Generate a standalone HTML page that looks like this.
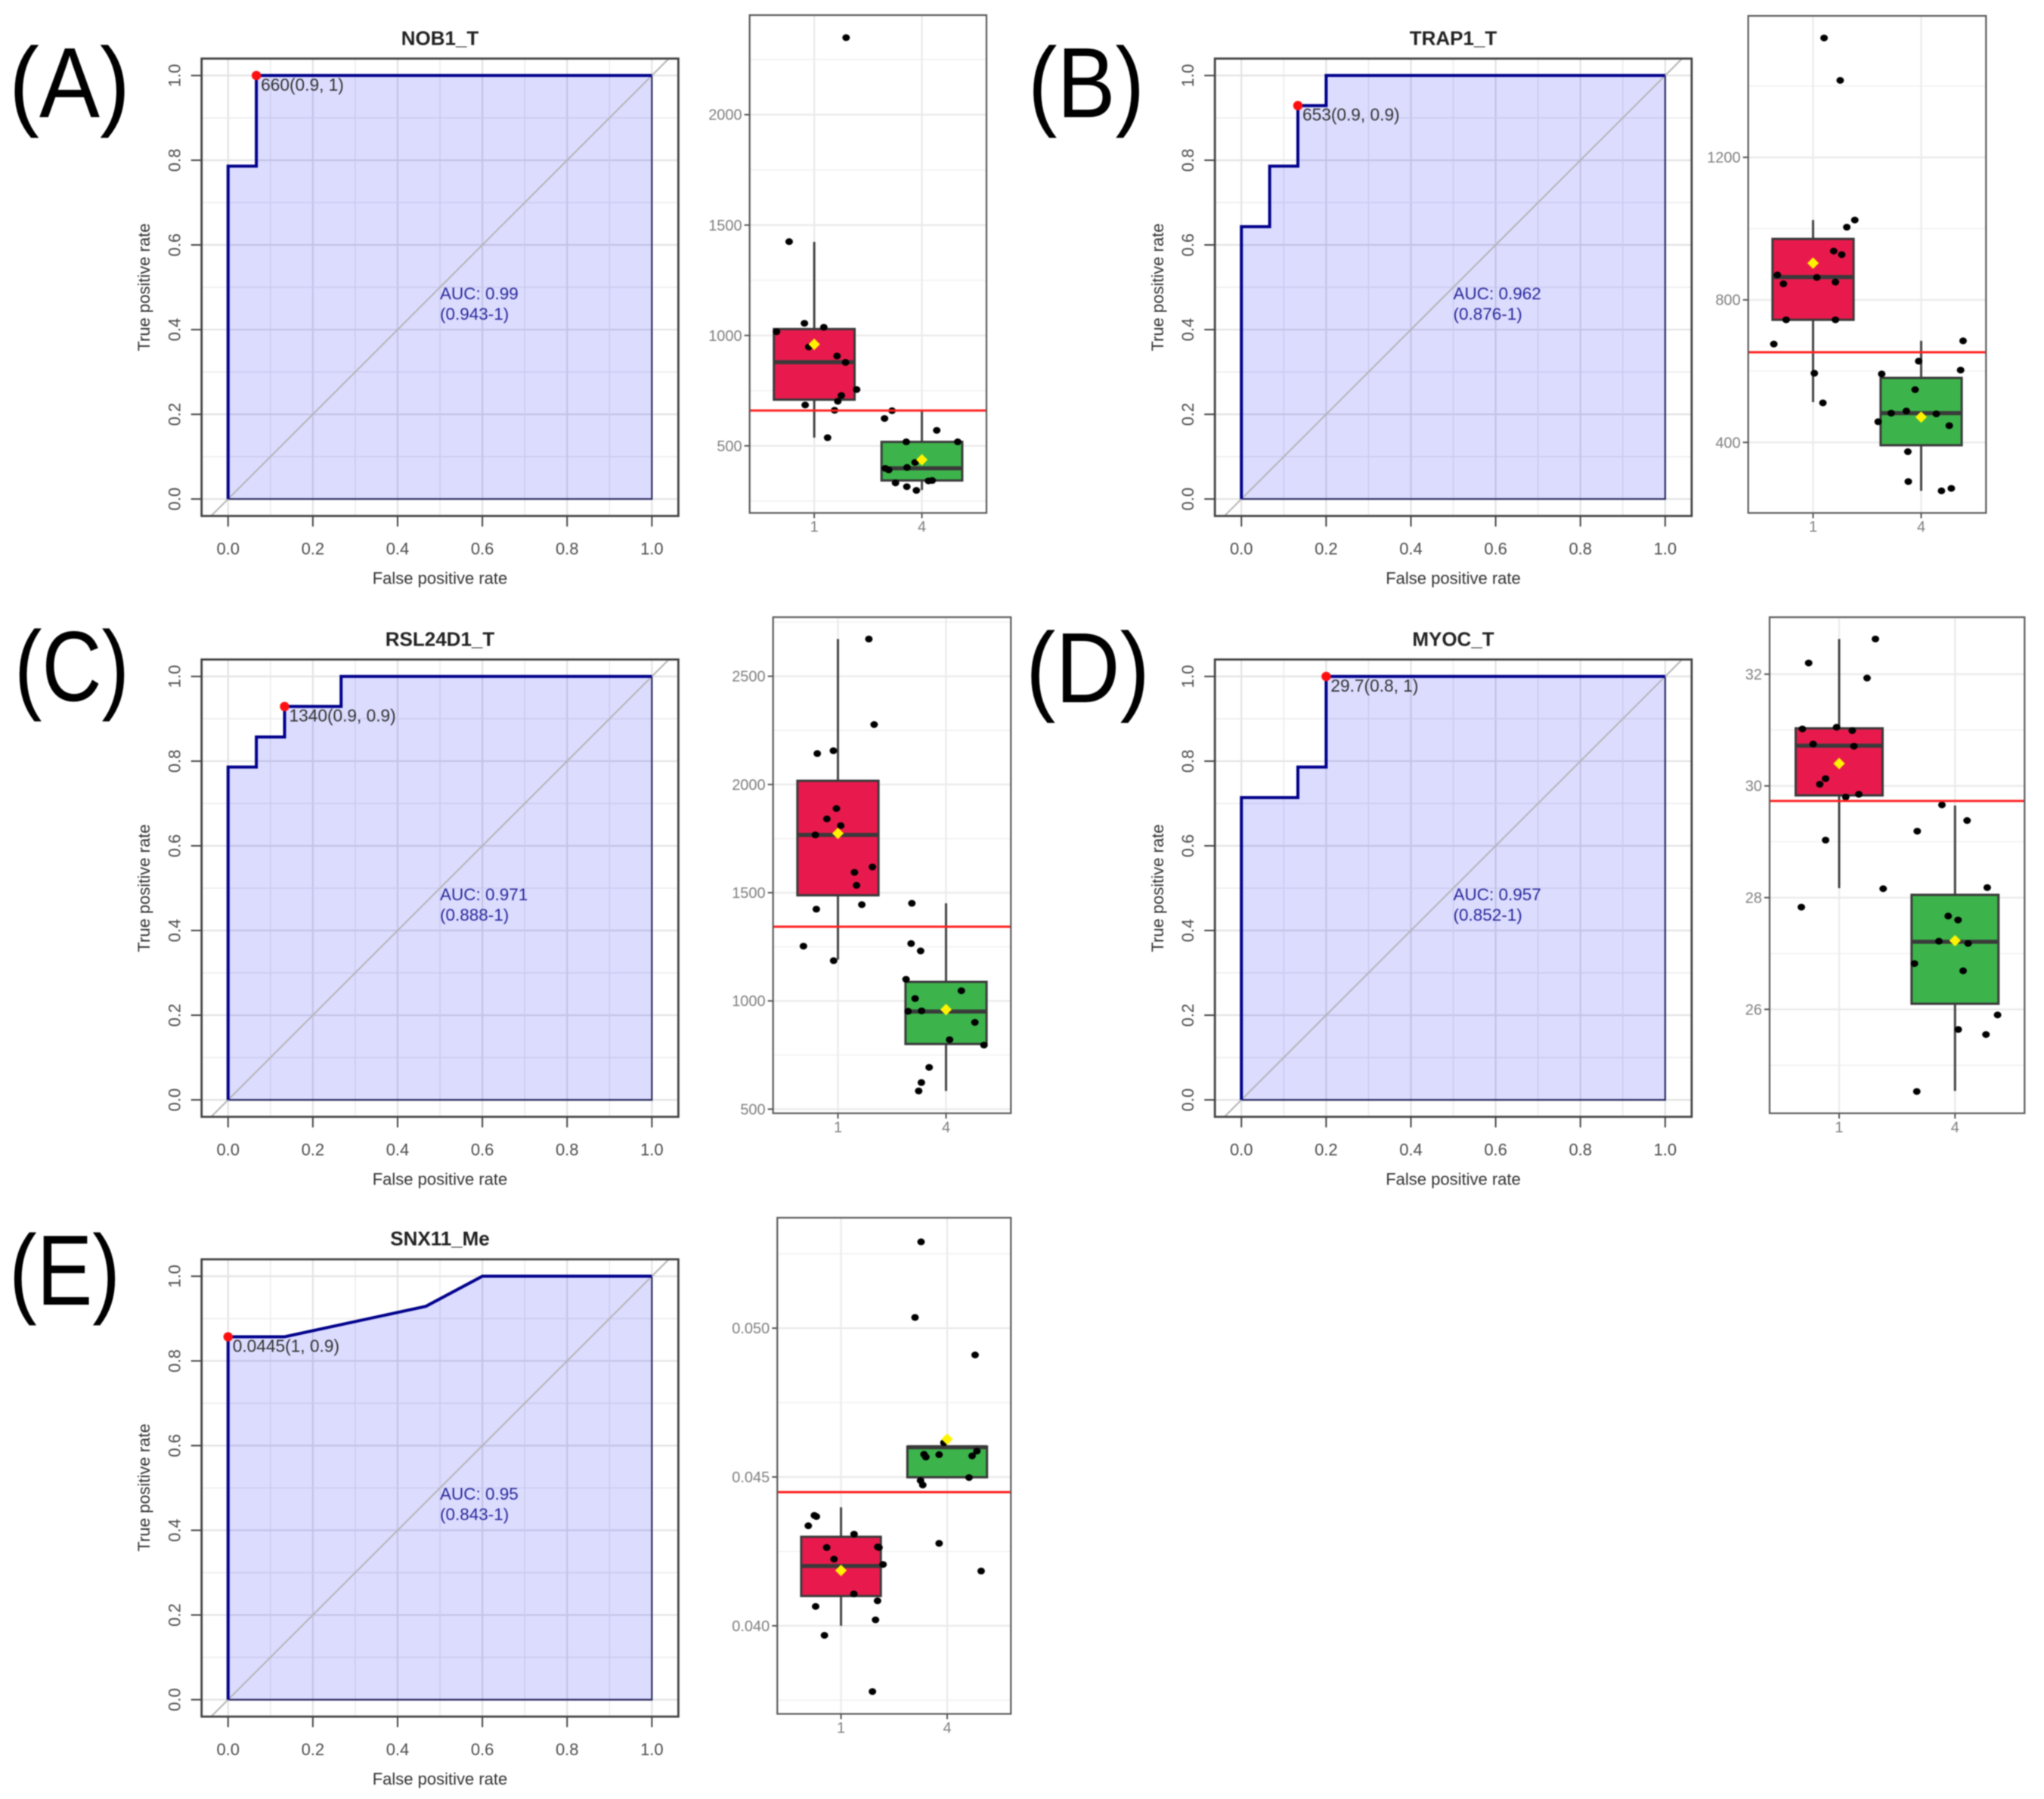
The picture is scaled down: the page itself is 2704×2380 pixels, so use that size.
<!DOCTYPE html>
<html lang="en">
<head>
<meta charset="utf-8">
<title>ROC curves and box plots</title>
<style>
  html, body { margin: 0; padding: 0; background: #fff; }
  #figure { display: block; filter: blur(0.7px); font-family: "Liberation Sans", sans-serif; }
  .letter { font-size: 132px; fill: #000; }
  .title { font-size: 26px; font-weight: bold; fill: #222; text-anchor: middle; }
  .axis-title { font-size: 22px; fill: #333; text-anchor: middle; }
  .auc { font-size: 22.5px; fill: #28289a; }
</style>
</head>
<body>
<svg id="figure" xmlns="http://www.w3.org/2000/svg" width="2704" height="2380" viewBox="0 0 2704 2380">
  <rect x="0" y="0" width="2704" height="2380" fill="#fff"/>
  <g id="plots"></g>

  <text class="letter" x="12" y="155" textLength="160" lengthAdjust="spacingAndGlyphs">(A)</text>
  <text class="letter" x="1360" y="155" textLength="154" lengthAdjust="spacingAndGlyphs">(B)</text>
  <text class="letter" x="19" y="927" textLength="152" lengthAdjust="spacingAndGlyphs">(C)</text>
  <text class="letter" x="1357" y="929" textLength="164" lengthAdjust="spacingAndGlyphs">(D)</text>
  <text class="letter" x="12" y="1726" textLength="147" lengthAdjust="spacingAndGlyphs">(E)</text>

  <text class="title" x="582" y="59.5">NOB1_T</text>
  <text class="title" x="1922.5" y="59.5">TRAP1_T</text>
  <text class="title" x="582" y="854.5">RSL24D1_T</text>
  <text class="title" x="1922.5" y="854.5">MYOC_T</text>
  <text class="title" x="582" y="1647.5">SNX11_Me</text>

  <text class="axis-title" x="582" y="772.5">False positive rate</text>
  <text class="axis-title" x="1922.5" y="772.5">False positive rate</text>
  <text class="axis-title" x="582" y="1567.5">False positive rate</text>
  <text class="axis-title" x="1922.5" y="1567.5">False positive rate</text>
  <text class="axis-title" x="582" y="2361">False positive rate</text>

  <text class="axis-title" transform="translate(198 380) rotate(-90)">True positive rate</text>
  <text class="axis-title" transform="translate(1539 380) rotate(-90)">True positive rate</text>
  <text class="axis-title" transform="translate(198 1175) rotate(-90)">True positive rate</text>
  <text class="axis-title" transform="translate(1539 1175) rotate(-90)">True positive rate</text>
  <text class="axis-title" transform="translate(198 1968) rotate(-90)">True positive rate</text>

  <text class="auc" x="582" y="396">AUC: 0.99</text>
  <text class="auc" x="582" y="423">(0.943-1)</text>
  <text class="auc" x="1922.5" y="396">AUC: 0.962</text>
  <text class="auc" x="1922.5" y="423">(0.876-1)</text>
  <text class="auc" x="582" y="1191">AUC: 0.971</text>
  <text class="auc" x="582" y="1218">(0.888-1)</text>
  <text class="auc" x="1922.5" y="1191">AUC: 0.957</text>
  <text class="auc" x="1922.5" y="1218">(0.852-1)</text>
  <text class="auc" x="582" y="1984">AUC: 0.95</text>
  <text class="auc" x="582" y="2011">(0.843-1)</text>
</svg>

<script>
// ---------- ROC data ----------
const rocTicks = [0, 0.2, 0.4, 0.6, 0.8, 1.0];
const rocTickLabels = ['0.0', '0.2', '0.4', '0.6', '0.8', '1.0'];

const fprA = [0, 0, 0.0667, 0.0667, 1];
const tprA = [0, 0.786, 0.786, 1, 1];
const cutFprA = 0.0667;
const cutTprA = 1;
const cutLabelA = '660(0.9, 1)';

const fprB = [0, 0, 0.0667, 0.0667, 0.1333, 0.1333, 0.2, 0.2, 1];
const tprB = [0, 0.643, 0.643, 0.786, 0.786, 0.929, 0.929, 1, 1];
const cutFprB = 0.1333;
const cutTprB = 0.929;
const cutLabelB = '653(0.9, 0.9)';

const fprC = [0, 0, 0.0667, 0.0667, 0.1333, 0.1333, 0.2667, 0.2667, 1];
const tprC = [0, 0.786, 0.786, 0.857, 0.857, 0.929, 0.929, 1, 1];
const cutFprC = 0.1333;
const cutTprC = 0.929;
const cutLabelC = '1340(0.9, 0.9)';

const fprD = [0, 0, 0.1333, 0.1333, 0.2, 0.2, 1];
const tprD = [0, 0.714, 0.714, 0.786, 0.786, 1, 1];
const cutFprD = 0.2;
const cutTprD = 1;
const cutLabelD = '29.7(0.8, 1)';

const fprE = [0, 0, 0.1333, 0.4667, 0.6, 1];
const tprE = [0, 0.857, 0.857, 0.929, 1, 1];
const cutFprE = 0;
const cutTprE = 0.857;
const cutLabelE = '0.0445(1, 0.9)';

// ---------- Box plot data ----------
const categories = ['1', '4'];

const ticksA = [500, 1000, 1500, 2000];
const tickLabelsA = ['500', '1000', '1500', '2000'];
const cutA = 660;
const statsA1 = { q1: 709, med: 879, q3: 1029, mean: 960, lo: 537, hi: 1424 };
const statsA4 = { q1: 343, med: 398, q3: 518, mean: 437, lo: 300, hi: 659 };
const valuesA1 = [2349, 1425, 1055, 1037, 1017, 948, 907, 878, 755, 728, 702, 685, 661, 537];
const jitterA1 = [0.296, -0.233, -0.091, 0.089, -0.35, -0.051, 0.212, 0.291, 0.394, 0.252, 0.219, -0.084, 0.189, 0.124];
const valuesA4 = [659, 624, 570, 518, 518, 425, 398, 391, 402, 332, 315, 298, 341, 343];
const jitterA4 = [-0.277, -0.347, 0.138, -0.145, 0.333, -0.063, -0.34, -0.308, -0.138, -0.245, -0.14, -0.051, 0.061, 0.096];

const ticksB = [400, 800, 1200];
const tickLabelsB = ['400', '800', '1200'];
const cutB = 653;
const statsB1 = { q1: 744, med: 864, q3: 971, mean: 903, lo: 513, hi: 1024 };
const statsB4 = { q1: 392, med: 482, q3: 581, mean: 471, lo: 264, hi: 685 };
const valuesB1 = [1535, 1416, 1024, 1004, 937, 927, 870, 863, 845, 850, 744, 744, 676, 594, 511];
const jitterB1 = [0.102, 0.251, 0.386, 0.312, 0.191, 0.265, -0.33, 0.035, -0.274, 0.207, -0.249, 0.207, -0.363, 0.012, 0.091];
const valuesB4 = [685, 628, 592, 603, 548, 482, 488, 480, 458, 447, 374, 290, 264, 271];
const jitterB4 = [0.388, -0.023, -0.365, 0.365, -0.056, -0.277, -0.137, 0.14, -0.398, 0.26, -0.123, -0.119, 0.188, 0.279];

const ticksC = [500, 1000, 1500, 2000, 2500];
const tickLabelsC = ['500', '1000', '1500', '2000', '2500'];
const cutC = 1343;
const statsC1 = { q1: 1488, med: 1767, q3: 2017, mean: 1774, lo: 1191, hi: 2672 };
const statsC4 = { q1: 801, med: 951, q3: 1088, mean: 960, lo: 584, hi: 1451 };
const valuesC1 = [2672, 2277, 2143, 2156, 1889, 1841, 1810, 1767, 1619, 1594, 1534, 1445, 1424, 1253, 1186];
const jitterC1 = [0.286, 0.335, -0.191, -0.042, -0.014, -0.102, 0.026, -0.209, 0.319, 0.153, 0.172, 0.221, -0.2, -0.319, -0.04];
const valuesC4 = [1451, 1265, 1231, 1100, 1047, 1011, 952, 954, 901, 821, 796, 693, 623, 584];
const jitterC4 = [-0.316, -0.323, -0.235, -0.37, 0.142, -0.286, -0.351, -0.226, 0.267, 0.033, 0.351, -0.156, -0.228, -0.253];

const ticksD = [26, 28, 30, 32];
const tickLabelsD = ['26', '28', '30', '32'];
const cutD = 29.73;
const statsD1 = { q1: 29.83, med: 30.72, q3: 31.03, mean: 30.4, lo: 28.17, hi: 32.63 };
const statsD4 = { q1: 26.1, med: 27.21, q3: 28.05, mean: 27.23, lo: 24.54, hi: 29.65 };
const valuesD1 = [32.63, 32.2, 31.93, 31.02, 31.05, 30.99, 30.75, 30.71, 30.13, 30.03, 29.85, 29.8, 29.03, 28.16, 27.83];
const jitterD1 = [0.313, -0.263, 0.241, -0.317, -0.022, 0.113, -0.224, 0.128, -0.117, -0.167, 0.17, 0.057, -0.117, 0.38, -0.326];
const valuesD4 = [29.66, 29.38, 29.19, 28.18, 27.67, 27.6, 27.22, 27.18, 26.82, 26.69, 25.9, 25.64, 25.55, 24.53];
const jitterD4 = [-0.113, 0.104, -0.326, 0.278, -0.059, 0.026, -0.139, 0.113, -0.35, 0.07, 0.367, 0.028, 0.267, -0.33];

const ticksE = [0.04, 0.045, 0.05];
const tickLabelsE = ['0.040', '0.045', '0.050'];
const cutE = 0.04449;
const statsE1 = { q1: 0.041, med: 0.04201, q3: 0.04299, mean: 0.04186, lo: 0.04, hi: 0.04398 };
const statsE4 = { q1: 0.04499, med: 0.046, q3: 0.04602, mean: 0.04627, lo: 0.04499, hi: 0.04602 };
const valuesE1 = [0.04371, 0.04367, 0.04336, 0.04308, 0.04263, 0.04265, 0.04263, 0.04224, 0.04206, 0.04107, 0.04084, 0.04065, 0.0402, 0.03968, 0.03779];
const jitterE1 = [-0.251, -0.232, -0.308, 0.123, -0.135, 0.346, 0.358, -0.066, 0.396, 0.121, 0.344, -0.239, 0.325, -0.156, 0.296];
const valuesE4 = [0.0529, 0.05036, 0.0491, 0.04615, 0.04587, 0.04576, 0.04567, 0.04575, 0.04571, 0.04498, 0.04488, 0.04473, 0.04277, 0.04184];
const jitterE4 = [-0.246, -0.303, 0.263, -0.031, 0.28, -0.218, -0.201, -0.076, 0.235, 0.206, -0.251, -0.23, -0.076, 0.32];

// ---------- Layout ----------
const SVGNS = 'http://www.w3.org/2000/svg';
const plots = document.getElementById('plots');

function make(tag, parent, attrs) {
  const el = document.createElementNS(SVGNS, tag);
  for (const k in attrs) el.setAttribute(k, attrs[k]);
  parent.appendChild(el);
  return el;
}

function linear(d0, d1, r0, r1) {
  return function (v) { return r0 + (v - d0) / (d1 - d0) * (r1 - r0); };
}

function drawRoc(cfg) {
  const g = make('g', plots, {});
  
  
  const x = linear(-0.0625, 1.0625, cfg.left, cfg.right);
  const y = linear(-0.04, 1.04, cfg.bottom, cfg.top);

  const bg = make('rect', g, { x: cfg.left, y: cfg.top, width: cfg.right - cfg.left, height: cfg.bottom - cfg.top, fill: '#fff' });
  
  

  for (let i = 0; i <= 10; i++) {
    const v = i / 10;
    const major = i % 2 === 0;
    const col = major ? '#e3e3e3' : '#ececec';
    const sw = major ? 2.2 : 1.6;
    const gx = make('line', g, { x1: x(v), x2: x(v), y1: cfg.top, y2: cfg.bottom, stroke: col, 'stroke-width': sw });
    
    
    const gy = make('line', g, { x1: cfg.left, x2: cfg.right, y1: y(v), y2: y(v), stroke: col, 'stroke-width': sw });
    
    
  }

  const pts = cfg.fpr.map(function (f, i) { return x(f) + ',' + y(cfg.tpr[i]); });
  const area = make('polygon', g, {
    points: pts.join(' ') + ' ' + x(1) + ',' + y(0),
    fill: 'rgb(0,0,255)', 'fill-opacity': 0.137, stroke: '#2c2c60', 'stroke-width': 2.2
  });
  
  

  const diag = make('line', g, { x1: x(-0.04), y1: y(-0.04), x2: x(1.04), y2: y(1.04), stroke: '#b4b4b4', 'stroke-width': 2 });
  
  

  const curve = make('polyline', g, { points: pts.join(' '), fill: 'none', stroke: '#00008b', 'stroke-width': 4, 'stroke-linejoin': 'miter' });
  
  

  const border = make('rect', g, { x: cfg.left, y: cfg.top, width: cfg.right - cfg.left, height: cfg.bottom - cfg.top, fill: 'none', stroke: '#444', 'stroke-width': 2.8 });
  
  

  rocTicks.forEach(function (v, i) {
    const tx = make('line', g, { x1: x(v), x2: x(v), y1: cfg.bottom, y2: cfg.bottom + 14, stroke: '#444', 'stroke-width': 2 });
    
    
    const ty = make('line', g, { x1: cfg.left - 14, x2: cfg.left, y1: y(v), y2: y(v), stroke: '#444', 'stroke-width': 2 });
    
    

    const lx = make('text', g, { x: x(v), y: cfg.bottom + 51, 'font-size': 22, fill: '#4d4d4d', 'text-anchor': 'middle' });
    
    
    lx.textContent = rocTickLabels[i];
    const ly = make('text', g, { transform: 'translate(' + (cfg.left - 28) + ' ' + y(v) + ') rotate(-90)', 'font-size': 22, fill: '#4d4d4d', 'text-anchor': 'middle' });
    
    
    ly.textContent = rocTickLabels[i];
  });

  const dot = make('circle', g, { cx: x(cfg.cutFpr), cy: y(cfg.cutTpr), r: 6.2, fill: '#ff1010' });
  
  

  const lab = make('text', g, { x: x(cfg.cutFpr) + 6, y: y(cfg.cutTpr) + 20, 'font-size': 22.7, fill: '#333' });
  
  
  lab.textContent = cfg.cutLabel;
}

function drawBoxGroup(g, x, y, catIndex, stats, values, jitter, fill, boxWidth) {
  const cx = x(catIndex);

  const whisker = make('line', g, { x1: cx, x2: cx, y1: y(stats.lo), y2: y(stats.hi), stroke: '#444', 'stroke-width': 3 });
  
  

  const left = x(catIndex - boxWidth / 2);
  const right = x(catIndex + boxWidth / 2);
  const box = make('rect', g, { x: left, y: y(stats.q3), width: right - left, height: y(stats.q1) - y(stats.q3), fill: fill, stroke: '#3a3a3a', 'stroke-width': 3 });
  
  

  const med = make('line', g, { x1: left, x2: right, y1: y(stats.med), y2: y(stats.med), stroke: '#3a3a3a', 'stroke-width': 5.4 });
  
  

  values.forEach(function (v, i) {
    const p = make('ellipse', g, { cx: x(catIndex + jitter[i]), cy: y(v), rx: 5, ry: 4.5, fill: '#000' });
    
    
  });

  const my = y(stats.mean);
  const mean = make('polygon', g, { points: (cx - 7.6) + ',' + my + ' ' + cx + ',' + (my - 7.6) + ' ' + (cx + 7.6) + ',' + my + ' ' + cx + ',' + (my + 7.6), fill: '#fff200' });
  
  
}

function drawBox(cfg) {
  const g = make('g', plots, {});
  
  
  const x = linear(0.4, 2.6, cfg.left, cfg.right);
  const y = linear(cfg.domain[0], cfg.domain[1], cfg.bottom, cfg.top);

  const bg = make('rect', g, { x: cfg.left, y: cfg.top, width: cfg.right - cfg.left, height: cfg.bottom - cfg.top, fill: '#fff' });
  
  

  const step = cfg.ticks[1] - cfg.ticks[0];
  for (let m = cfg.ticks[0] - step / 2; m <= cfg.domain[1]; m += step) {
    if (m < cfg.domain[0]) continue;
    const gm = make('line', g, { x1: cfg.left, x2: cfg.right, y1: y(m), y2: y(m), stroke: '#f0f0f0', 'stroke-width': 1.4 });
    
    
  }
  cfg.ticks.forEach(function (t, i) {
    const gy = make('line', g, { x1: cfg.left, x2: cfg.right, y1: y(t), y2: y(t), stroke: '#ebebeb', 'stroke-width': 2.4 });
    
    
    const tick = make('line', g, { x1: cfg.left - 7, x2: cfg.left, y1: y(t), y2: y(t), stroke: '#555', 'stroke-width': 2 });
    
    
    const lab = make('text', g, { x: cfg.left - 10, y: y(t) + 7, 'font-size': 20, fill: '#7f7f7f', 'text-anchor': 'end' });
    
    
    lab.textContent = cfg.tickLabels[i];
  });
  categories.forEach(function (c, i) {
    const gv = make('line', g, { x1: x(i + 1), x2: x(i + 1), y1: cfg.top, y2: cfg.bottom, stroke: '#ebebeb', 'stroke-width': 2.4 });
    
    
    const tick = make('line', g, { x1: x(i + 1), x2: x(i + 1), y1: cfg.bottom, y2: cfg.bottom + 7, stroke: '#555', 'stroke-width': 2 });
    
    
    const lab = make('text', g, { x: x(i + 1), y: cfg.bottom + 25, 'font-size': 20, fill: '#7f7f7f', 'text-anchor': 'middle' });
    
    
    lab.textContent = c;
  });

  drawBoxGroup(g, x, y, 1, cfg.stats1, cfg.values1, cfg.jitter1, '#e81a4d', 0.75);
  drawBoxGroup(g, x, y, 2, cfg.stats4, cfg.values4, cfg.jitter4, '#3cb44b', 0.75);

  const cut = make('line', g, { x1: cfg.left, x2: cfg.right, y1: y(cfg.cut), y2: y(cfg.cut), stroke: '#ff2020', 'stroke-width': 3 });
  
  

  const border = make('rect', g, { x: cfg.left, y: cfg.top, width: cfg.right - cfg.left, height: cfg.bottom - cfg.top, fill: 'none', stroke: '#5a5a5a', 'stroke-width': 2.2 });
  
  
}

drawRoc({ left: 266.7, right: 897.4, top: 77.5, bottom: 682.6, fpr: fprA, tpr: tprA, cutFpr: cutFprA, cutTpr: cutTprA, cutLabel: cutLabelA });
drawRoc({ left: 1607.2, right: 2237.9, top: 77.5, bottom: 682.6, fpr: fprB, tpr: tprB, cutFpr: cutFprB, cutTpr: cutTprB, cutLabel: cutLabelB });
drawRoc({ left: 266.7, right: 897.4, top: 872.5, bottom: 1477.5, fpr: fprC, tpr: tprC, cutFpr: cutFprC, cutTpr: cutTprC, cutLabel: cutLabelC });
drawRoc({ left: 1607.2, right: 2237.9, top: 872.5, bottom: 1477.5, fpr: fprD, tpr: tprD, cutFpr: cutFprD, cutTpr: cutTprD, cutLabel: cutLabelD });
drawRoc({ left: 266.7, right: 897.4, top: 1666, bottom: 2271, fpr: fprE, tpr: tprE, cutFpr: cutFprE, cutTpr: cutTprE, cutLabel: cutLabelE });

drawBox({ left: 991.7, right: 1305, top: 20, bottom: 678.6, domain: [196, 2451], ticks: ticksA, tickLabels: tickLabelsA, cut: cutA, stats1: statsA1, stats4: statsA4, values1: valuesA1, jitter1: jitterA1, values4: valuesA4, jitter4: jitterA4 });
drawBox({ left: 2312.7, right: 2627.3, top: 21, bottom: 678.6, domain: [202, 1597], ticks: ticksB, tickLabels: tickLabelsB, cut: cutB, stats1: statsB1, stats4: statsB4, values1: valuesB1, jitter1: jitterB1, values4: valuesB4, jitter4: jitterB4 });
drawBox({ left: 1022.7, right: 1337.3, top: 816.5, bottom: 1472.8, domain: [481, 2773], ticks: ticksC, tickLabels: tickLabelsC, cut: cutC, stats1: statsC1, stats4: statsC4, values1: valuesC1, jitter1: jitterC1, values4: valuesC4, jitter4: jitterC4 });
drawBox({ left: 2341, right: 2678.3, top: 816.5, bottom: 1472.8, domain: [24.14, 33.02], ticks: ticksD, tickLabels: tickLabelsD, cut: cutD, stats1: statsD1, stats4: statsD4, values1: valuesD1, jitter1: jitterD1, values4: valuesD4, jitter4: jitterD4 });
drawBox({ left: 1028.3, right: 1337.3, top: 1611, bottom: 2267.4, domain: [0.03704, 0.05371], ticks: ticksE, tickLabels: tickLabelsE, cut: cutE, stats1: statsE1, stats4: statsE4, values1: valuesE1, jitter1: jitterE1, values4: valuesE4, jitter4: jitterE4 });
</script>
</body>
</html>
